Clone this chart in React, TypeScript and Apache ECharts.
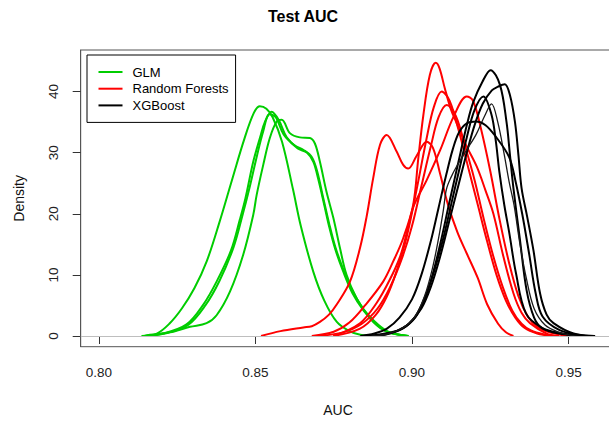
import React, { useEffect, useRef } from "react";
import * as echarts from "echarts";

// ---- data (AUC, density) ----
const xTicks = [0.8, 0.85, 0.9, 0.95];
const yTicks = [0, 10, 20, 30, 40];
const legendNames = ["GLM", "Random Forests", "XGBoost"];

const glm1 = [[0.8136,0],[0.8185,0.4],[0.8225,2.0],[0.8265,4.5],[0.8305,7.8],[0.8345,12.3],[0.8385,18.6],[0.8425,25.5],[0.8465,32.3],[0.8495,36.5],[0.8514,37.6],[0.8535,37.2],[0.8555,35.8],[0.8585,31.8],[0.862,24],[0.8645,18],[0.8685,10.5],[0.872,5.8],[0.876,2.3],[0.88,0.8],[0.8835,0.2],[0.888,0]];
const glm2 = [[0.8145,0],[0.8205,0.4],[0.828,1.9],[0.8333,5.1],[0.8376,8.9],[0.8422,14],[0.845,19],[0.8468,22.5],[0.8493,28.5],[0.8515,32.5],[0.853,35],[0.8552,36.7],[0.8575,35.3],[0.86,32.5],[0.8635,30.7],[0.8665,30.0],[0.8685,28.5],[0.87,25.8],[0.872,21.4],[0.8735,18],[0.8755,14.2],[0.878,10.6],[0.881,7.0],[0.8845,4.2],[0.888,2.2],[0.892,0.7],[0.896,0.2],[0.899,0]];
const glm3 = [[0.815,0],[0.821,0.4],[0.8285,1.8],[0.834,5],[0.8385,9],[0.843,14.5],[0.846,20],[0.848,24],[0.8505,29.5],[0.8525,33.5],[0.8545,36.3],[0.8565,35.8],[0.859,33],[0.8625,31.2],[0.8655,30.4],[0.868,29.3],[0.8697,27],[0.8717,22.5],[0.8735,18.5],[0.8755,14.6],[0.878,11],[0.881,7.4],[0.8845,4.4],[0.888,2.4],[0.892,0.8],[0.896,0.2],[0.8985,0]];
const glm4 = [[0.8145,0],[0.8163,0.2],[0.8227,0.6],[0.8291,1.5],[0.8344,2.1],[0.8376,3.4],[0.8419,7.3],[0.8461,13.3],[0.8493,19.8],[0.8504,23.1],[0.8525,28],[0.8546,32.4],[0.8568,35.1],[0.8584,35.4],[0.861,33.2],[0.8642,32.5],[0.8674,32.4],[0.869,31.5],[0.8706,28.5],[0.8727,23.6],[0.8749,19.3],[0.877,14.4],[0.8791,10],[0.8823,6.2],[0.8866,2.9],[0.8908,1.0],[0.8951,0.3],[0.8988,0]];

const rf1 = [[0.8518,0],[0.858,0.8],[0.8653,1.4],[0.868,1.6],[0.8706,2.3],[0.8735,3.5],[0.8759,5.1],[0.8802,8.9],[0.8834,14.4],[0.8855,19.5],[0.8876,25.8],[0.8898,31.3],[0.8919,32.9],[0.8951,30.2],[0.8972,28],[0.8988,27.4],[0.9015,29.5],[0.9047,31.8],[0.9067,30.8],[0.909,26.5],[0.9115,21.5],[0.9145,17],[0.9175,13.5],[0.921,9.5],[0.924,5.2],[0.9275,2],[0.93,0.6],[0.9324,0]];
const rf2 = [[0.868,0],[0.875,0.7],[0.88,2.2],[0.885,5],[0.8908,8.9],[0.894,12.2],[0.8972,16],[0.9004,21.5],[0.902,29],[0.9036,36],[0.9057,42.7],[0.9076,44.7],[0.9088,43.8],[0.9105,40.5],[0.9125,37],[0.9143,34.8],[0.9175,31],[0.9207,27.7],[0.9235,23.8],[0.926,20],[0.9292,13],[0.9324,7],[0.935,3.8],[0.9377,2.1],[0.943,0.4],[0.9465,0]];
const rf3 = [[0.8749,0],[0.8834,1.2],[0.8885,3.5],[0.892,6.5],[0.895,10.5],[0.8983,16.2],[0.9015,24],[0.9047,32.4],[0.907,37.5],[0.9095,40],[0.912,38.5],[0.915,33.5],[0.918,27.5],[0.921,21.5],[0.924,15.5],[0.927,10],[0.93,5.8],[0.933,3],[0.936,1.3],[0.94,0.4],[0.9445,0]];
const rf4 = [[0.87,0],[0.878,0.6],[0.884,2],[0.889,4.5],[0.893,8],[0.897,13],[0.9,18],[0.903,24.5],[0.906,31],[0.9085,35.8],[0.9111,37.8],[0.914,36],[0.917,31],[0.92,25.5],[0.923,19],[0.926,13],[0.929,8],[0.932,4.2],[0.935,2],[0.938,0.9],[0.942,0.3],[0.947,0]];
const rf5 = [[0.8749,0],[0.8834,2.1],[0.8887,5.4],[0.8929,9.2],[0.8962,13],[0.8983,16.8],[0.9005,21.2],[0.9047,25.5],[0.909,30.4],[0.9133,35.9],[0.9175,39.2],[0.9195,38.5],[0.922,34],[0.925,27],[0.928,19],[0.931,12],[0.934,6.5],[0.937,3.2],[0.94,1.5],[0.944,0.6],[0.948,0.15],[0.951,0]];

const xgb1 = [[0.885,0],[0.89,0.3],[0.896,1],[0.9,2.5],[0.903,5],[0.906,9],[0.909,15],[0.912,22],[0.9155,30],[0.9175,34.5],[0.9196,38.3],[0.9225,41.6],[0.9251,43.5],[0.9281,41.1],[0.9302,35],[0.9313,29.6],[0.9324,24.2],[0.9345,15.7],[0.9366,7.5],[0.939,3],[0.9415,1.3],[0.947,0.4],[0.955,0]];
const xgb2 = [[0.886,0],[0.891,0.2],[0.895,0.8],[0.899,2],[0.903,4.5],[0.906,8],[0.909,13],[0.912,19],[0.915,25],[0.9175,30],[0.92,34.5],[0.9226,38],[0.9255,40.2],[0.9275,40.8],[0.9296,41.2],[0.9313,39.4],[0.9329,35],[0.934,29.6],[0.935,24.2],[0.9368,19.5],[0.9388,14],[0.9409,7],[0.943,3.5],[0.9452,2.1],[0.9516,0.4],[0.9585,0]];
const xgb3 = [[0.887,0],[0.892,0.3],[0.897,1.2],[0.901,3],[0.904,6],[0.907,10.5],[0.91,16],[0.9125,21.5],[0.915,27],[0.9175,32.5],[0.92,37],[0.9228,39.2],[0.9254,36.2],[0.9268,31.8],[0.9279,26.9],[0.9295,21.4],[0.9311,16.8],[0.9332,10.3],[0.9364,3.7],[0.9417,1.3],[0.9481,0.4],[0.9534,0]];
const xgb4 = [[0.887,0],[0.892,0.3],[0.897,1.3],[0.901,3.2],[0.904,6.5],[0.9065,11],[0.9085,16],[0.91,20.5],[0.911,24],[0.9125,26],[0.9142,27.7],[0.9174,30.4],[0.9205,33],[0.9232,36],[0.9254,38],[0.9274,35],[0.9295,29.6],[0.931,25.3],[0.9326,21.4],[0.9345,15],[0.9365,9.5],[0.939,4.5],[0.9425,1.8],[0.947,0.6],[0.951,0.1],[0.955,0]];
const xgb5 = [[0.8835,0],[0.888,0.4],[0.892,1.2],[0.896,3],[0.9,6],[0.903,10],[0.906,15.5],[0.9085,21],[0.911,26.5],[0.913,30.5],[0.915,33.3],[0.9175,34.8],[0.9205,35.1],[0.9235,34.5],[0.9268,32.6],[0.931,29.3],[0.933,25.5],[0.9352,20],[0.9374,13.5],[0.9395,7],[0.9417,3.2],[0.947,1.0],[0.9535,0.15],[0.958,0]];

const glmCurves = [glm1, glm2, glm3, glm4];
const rfCurves = [rf1, rf2, rf3, rf4, rf5];
const xgbCurves = [xgb1, xgb2, xgb3, xgb4, xgb5];

const FONT = "'Liberation Sans', Arial, sans-serif";
const GREEN = "#00CD00";
const RED = "#FF0000";
const BLACK = "#000000";

function lineSeries(name: string, color: string, data: number[][], width = 2) {
  return {
    type: "line",
    name,
    data,
    color,
    smooth: 0.35,
    showSymbol: false,
    symbol: "none",
    silent: true,
    lineStyle: { color, width },
  };
}

export default function App() {
  const ref = useRef<HTMLDivElement>(null);
  useEffect(() => {
    if (!ref.current) return;
    const chart = echarts.init(ref.current, undefined, { renderer: "svg" });
    const series: any[] = [
      ...glmCurves.map((d) => lineSeries(legendNames[0], GREEN, d)),
      ...rfCurves.map((d) => lineSeries(legendNames[1], RED, d)),
      ...xgbCurves.map((d, i) => lineSeries(legendNames[2], i === 3 ? "#1a1a1a" : BLACK, d, i === 3 ? 1.3 : 2)),
    ];
    series[0].markLine = {
      silent: true,
      symbol: ["none", "none"],
      label: { show: false },
      lineStyle: { color: "#BEBEBE", type: "solid", width: 1 },
      data: [{ yAxis: 0 }],
    };
    chart.setOption({
      animation: false,
      backgroundColor: "#ffffff",
      textStyle: { fontFamily: FONT },
      title: [
        {
          text: "Test AUC",
          left: 298,
          top: 3,
          textAlign: "center",
          textStyle: { fontSize: 16, fontWeight: "bold", color: "#000", fontFamily: FONT },
        },
        {
          text: "AUC",
          left: 333,
          top: 398,
          textAlign: "center",
          textStyle: { fontSize: 14, fontWeight: "normal", color: "#111", fontFamily: FONT },
        },
      ],
      legend: {
        data: legendNames,
        orient: "vertical",
        left: 87,
        top: 55,
        padding: [10, 7, 10, 11.5],
        borderColor: "#000",
        borderWidth: 1,
        icon: "rect",
        itemWidth: 24,
        itemHeight: 2,
        itemGap: 2.7,
        selectedMode: false,
        textStyle: { fontSize: 13, fontFamily: FONT, color: "#000", lineHeight: 14, padding: [0, 0, 0, 5] },
      },
      grid: {
        left: 80.7,
        top: 50,
        width: 534.8,
        height: 296.7,
        show: true,
        borderColor: "#555",
        borderWidth: 1,
        containLabel: false,
        outerBoundsMode: "none",
      },
      xAxis: {
        type: "value",
        min: 0.7942,
        max: 0.965,
        splitLine: { show: false },
        axisLine: { show: true, lineStyle: { color: "#222", width: 1 } },
        axisTick: { show: true, length: 8, lineStyle: { color: "#333" }, customValues: xTicks },
        axisLabel: {
          customValues: xTicks,
          margin: 19,
          fontSize: 13.5,
          color: "#222",
          fontFamily: FONT,
          formatter: (v: number) => v.toFixed(2),
        },
      },
      yAxis: {
        type: "value",
        min: -1.75,
        max: 46.8,
        name: "Density",
        nameLocation: "middle",
        nameGap: 55,
        nameRotate: 90,
        nameTextStyle: { fontSize: 14, color: "#111", fontFamily: FONT },
        splitLine: { show: false },
        axisLine: { show: true, lineStyle: { color: "#555", width: 1 } },
        axisTick: { show: true, length: 8, lineStyle: { color: "#333" }, customValues: yTicks },
        axisLabel: {
          customValues: yTicks,
          rotate: 90,
          margin: 20,
          fontSize: 13.5,
          color: "#222",
          fontFamily: FONT,
        },
      },
      series,
    });
    return () => chart.dispose();
  }, []);
  return (
    <div
      ref={ref}
      style={{ position: "absolute", left: 0, top: 0, width: 609, height: 421, background: "#fff" }}
    />
  );
}
